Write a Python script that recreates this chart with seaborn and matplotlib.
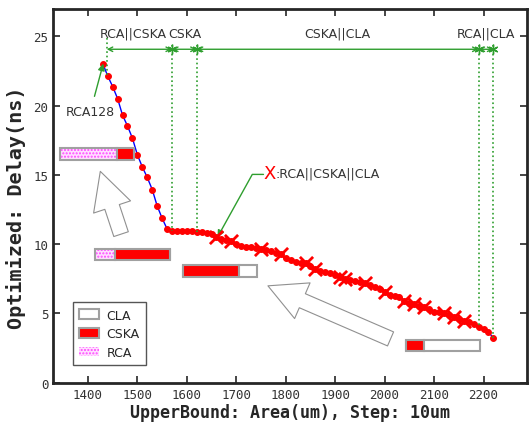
import numpy as np
import pandas as pd
import matplotlib
matplotlib.use('Agg')
import matplotlib.pyplot as plt
import seaborn as sns
from matplotlib.patches import Patch

# area upper bound (step 10um) and optimized delay
area = list(range(1430, 2230, 10))
delay = [23.03, 22.13, 21.37, 20.50, 19.30, 18.53, 17.64, 16.44, 15.57, 14.81,
         13.94, 12.76, 11.87, 11.10, 10.95, 10.94, 10.93, 10.93, 10.92, 10.90,
         10.89, 10.77, 10.70, 10.50, 10.36, 10.30, 10.22, 10.00, 9.88, 9.81,
         9.76, 9.72, 9.66, 9.58, 9.47, 9.38, 9.26, 8.99, 8.87, 8.72,
         8.66, 8.62, 8.40, 8.20, 8.05, 7.96, 7.89, 7.76, 7.64, 7.48,
         7.42, 7.35, 7.25, 7.17, 7.03, 6.88, 6.75, 6.57, 6.34, 6.27,
         6.16, 5.91, 5.75, 5.67, 5.55, 5.44, 5.30, 5.12, 5.08, 5.00,
         4.85, 4.72, 4.62, 4.47, 4.35, 4.20, 3.99, 3.87, 3.68, 3.20]

# points where the config is RCA||CSKA||CLA
x_marks = [1660, 1690, 1750, 1790, 1840, 1860, 1910, 1920, 1960, 2000,
           2040, 2060, 2080, 2120, 2140, 2160]

# region boundaries and names on top
bounds = [1438, 1570, 1620, 2190, 2220]
bound_ends = [22.13, 10.95, 10.90, 3.99, 3.20]
regions = ['RCA||CSKA', 'CSKA', 'CSKA||CLA', 'RCA||CLA']

# small composition bars (share of RCA / CSKA / CLA in area)
bar_left = [1344, 1415, 1592, 2043]
bar_y = [16.49, 9.26, 8.05, 2.70]
bar_total = 150
rca_share = [0.77, 0.26, 0.0, 0.0]
cska_share = [0.23, 0.74, 0.76, 0.25]
cla_share = [0.0, 0.0, 0.24, 0.75]

df = pd.DataFrame({'area': area, 'delay': delay})
df_x = df[df['area'].isin(x_marks)]

sns.set_style('ticks')
plt.rcParams['font.family'] = ['DejaVu Sans']

fig = plt.figure(figsize=(5.3, 4.27), dpi=100)
ax = fig.add_axes([0.1006, 0.1014, 0.8938, 0.8763])

green = '#2e9e2e'
edge = '#a0a0a0'

# curve
sns.lineplot(data=df, x='area', y='delay', color='blue', lw=1, ax=ax,
             marker='o', markersize=4.2, markerfacecolor='red',
             markeredgecolor='red')
sns.scatterplot(data=df_x, x='area', y='delay', marker='x', s=90,
                color='red', linewidth=2, ax=ax, zorder=4)

# composition bars
h = 0.82
rca_w = [s * bar_total for s in rca_share]
cska_w = [s * bar_total for s in cska_share]
cla_w = [s * bar_total for s in cla_share]
cska_left = [l + w for l, w in zip(bar_left, rca_w)]
cla_left = [l + w for l, w in zip(cska_left, cska_w)]
ax.barh(bar_y, rca_w, left=bar_left, height=h, color='#ffe0ff',
        edgecolor='#ff44ff', hatch='.....', lw=0, zorder=3)
ax.barh(bar_y, rca_w, left=bar_left, height=h, fill=False,
        edgecolor=edge, lw=1.5, zorder=3)
ax.barh(bar_y, cska_w, left=cska_left, height=h, color='red',
        edgecolor=edge, lw=1.5, zorder=3)
ax.barh(bar_y, cla_w, left=cla_left, height=h, color='white',
        edgecolor=edge, lw=1.5, zorder=3)

# hollow arrows
arrow_style = 'simple,head_length=1.35,head_width=1.4,tail_width=0.55'
ax.annotate('', xy=(1425, 15.25), xytext=(1467, 10.72),
            arrowprops=dict(arrowstyle=arrow_style, fc='white', ec='#909090',
                            lw=0.8, mutation_scale=20, shrinkA=0, shrinkB=0))
ax.annotate('', xy=(1764, 6.99), xytext=(2012, 3.16),
            arrowprops=dict(arrowstyle=arrow_style, fc='white', ec='#909090',
                            lw=0.8, mutation_scale=20, shrinkA=0, shrinkB=0))

# region markers on top
top_y = 24.06
for i, b in enumerate(bounds):
    y0 = 24.9 if i == 0 else 24.4
    ax.plot([b, b], [y0, bound_ends[i]], color=green, ls=':', lw=1.2)
for a, b in zip(bounds[:-1], bounds[1:]):
    ax.annotate('', xy=(a, top_y), xytext=(b, top_y),
                arrowprops=dict(arrowstyle='<->', color=green, lw=1,
                                shrinkA=0, shrinkB=0, mutation_scale=8))
ax.plot(bounds[1:], [top_y] * 4, ls='none', marker=(6, 2, 0),
        color=green, markersize=7, mew=1)
for a, b, name in zip(bounds[:-1], bounds[1:], regions):
    ax.text((a + b) / 2 - (12 if name == 'RCA||CSKA' else 0), 25.2, name,
            ha='center', va='center', fontsize=9, color='#333333')

# annotations
ax.annotate('RCA128', xy=(1431, 23.03), xytext=(1405, 19.57),
            ha='center', va='center', fontsize=9, color='#333333',
            arrowprops=dict(arrowstyle='-|>', color=green, lw=1,
                            mutation_scale=10, shrinkA=4, shrinkB=0))
ax.annotate('', xy=(1662, 10.5), xytext=(1755, 15.03),
            arrowprops=dict(arrowstyle='-|>', color=green, lw=1,
                            mutation_scale=10, shrinkA=0, shrinkB=0,
                            connectionstyle='angle,angleA=0,angleB=61,rad=0'))
ax.text(1767, 15.1, 'X', color='red', fontsize=13, ha='center', va='center')
ax.text(1779, 15.1, ':RCA||CSKA||CLA', color='#333333', fontsize=9,
        ha='left', va='center')

# legend
handles = [Patch(facecolor='white', edgecolor=edge, lw=1.5, label='CLA'),
           Patch(facecolor='red', edgecolor=edge, lw=1.5, label='CSKA'),
           Patch(facecolor='#ffe0ff', edgecolor='#ff44ff', hatch='.....',
                 lw=0, label='RCA')]
leg = ax.legend(handles=handles, loc='lower left',
                bbox_to_anchor=(0.041, 0.047), borderaxespad=0,
                fontsize=9, fancybox=False, framealpha=1,
                edgecolor='#555555', handlelength=1.6, handleheight=0.8,
                handletextpad=0.6, labelspacing=0.45, borderpad=0.5)
leg.get_frame().set_linewidth(1)

# axes
ax.set_xlim(1330, 2288)
ax.set_ylim(0, 27)
ax.set_xticks(range(1400, 2201, 100))
ax.set_yticks(range(0, 26, 5))
ax.tick_params(direction='in', length=5, width=1.2, top=True, right=True,
               labelsize=9, labelcolor='#333333')
for lab in ax.get_xticklabels() + ax.get_yticklabels():
    lab.set_family('DejaVu Sans Mono')
for sp in ax.spines.values():
    sp.set_linewidth(2)
    sp.set_visible(True)
ax.set_xlabel('UpperBound: Area(um), Step: 10um', fontsize=12,
              fontweight='bold', family='DejaVu Sans Mono', labelpad=2)
ax.set_ylabel('Optimized: Delay(ns)', fontsize=14.5,
              fontweight='bold', family='DejaVu Sans Mono')
ax.yaxis.set_label_coords(-0.057, 0.47)

fig.savefig('out.png', dpi=100)
